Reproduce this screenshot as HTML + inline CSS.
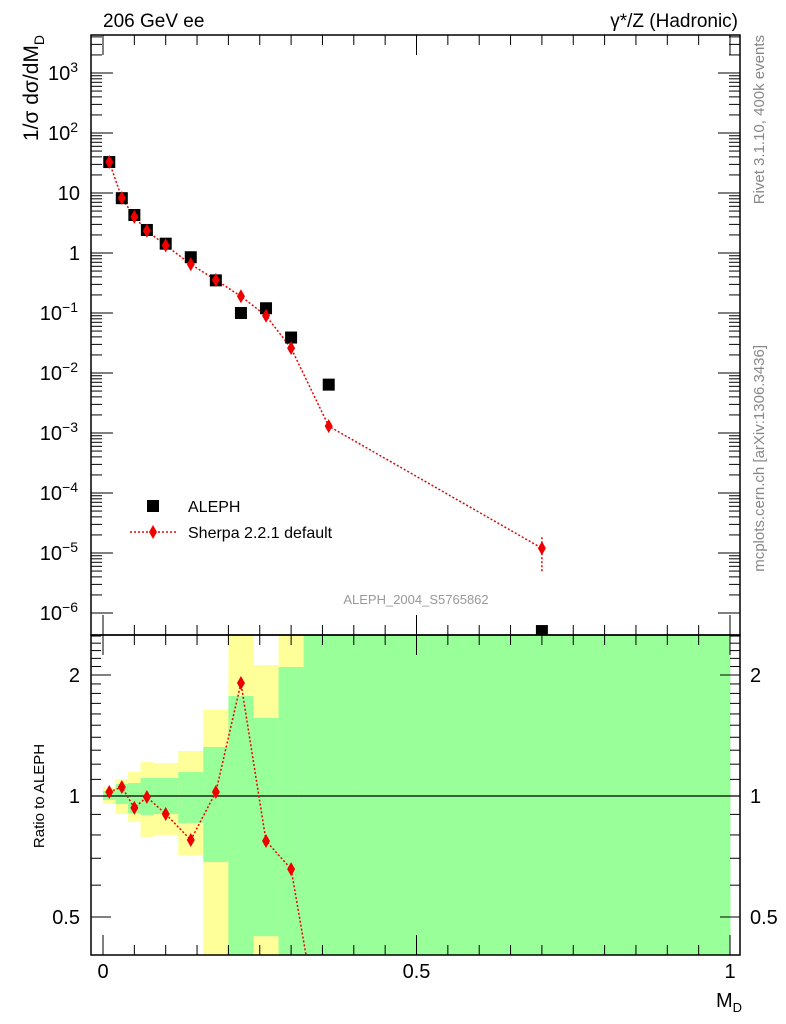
<!DOCTYPE html>
<html><head><meta charset="utf-8"><style>
html,body{margin:0;padding:0;background:#fff;overflow:hidden;width:786px;height:1024px}
svg{display:block;font-family:"Liberation Sans",sans-serif}
</style></head><body>
<svg id="c" width="786" height="1024" viewBox="0 0 786 1024" xmlns="http://www.w3.org/2000/svg">
<g id="bands"></g>
<g id="ticks"></g>
<g id="marks"></g>
<rect x="91" y="35" width="649" height="600" fill="none" stroke="#000" stroke-width="1.5"/>
<rect x="91" y="635" width="649" height="320" fill="none" stroke="#000" stroke-width="1.5"/>
<text x="103" y="27" font-size="19">206 GeV ee</text>
<text x="738" y="27" font-size="19" text-anchor="end">γ*/Z (Hadronic)</text>
<text transform="translate(38,35) rotate(-90)" font-size="21" text-anchor="end">1/σ  dσ/dM<tspan font-size="14" dy="6">D</tspan></text>
<text transform="translate(44,796) rotate(-90)" font-size="15" text-anchor="middle">Ratio to ALEPH</text>
<text x="742" y="1007" font-size="20" text-anchor="end">M<tspan font-size="13" dy="5">D</tspan></text>
<text transform="translate(764,35) rotate(-90)" font-size="15" fill="#888" text-anchor="end">Rivet 3.1.10,  400k events</text>
<text transform="translate(764,345) rotate(-90)" font-size="15" fill="#888" text-anchor="end">mcplots.cern.ch [arXiv:1306.3436]</text>
<text x="416" y="604" font-size="13" fill="#999" text-anchor="middle">ALEPH_2004_S5765862</text>
<g>
<rect x="147" y="500" width="12" height="12" fill="#000"/>
<text x="188" y="512" font-size="16">ALEPH</text>
<line x1="130" y1="532" x2="176" y2="532" stroke="#e00" stroke-width="1.5" stroke-dasharray="2,2"/>
<polygon points="153,525 157,532 153,539 149,532" fill="#e00"/>
<text x="188" y="538" font-size="16">Sherpa 2.2.1 default</text>
</g>
</svg>
<script>
const binEdges=[0,0.02,0.04,0.06,0.08,0.12,0.16,0.2,0.24,0.28,0.32,0.4,1.0];
const xCenters=[0.01,0.03,0.05,0.07,0.1,0.14,0.18,0.22,0.26,0.30,0.36,0.70];
const alephVals=[32.8,8.2,4.3,2.42,1.43,0.85,0.35,0.10,0.12,0.039,0.0064,5e-7];
const sherpaVals=[32.8,8.27,4.0,2.35,1.34,0.65,0.355,0.19,0.09,0.026,0.0013,1.2e-5];
const ratioVals=[1.023,1.053,0.934,0.994,0.902,0.777,1.023,1.91,0.773,0.658,0.19];
const yellowHi=[1.053,1.102,1.147,1.215,1.208,1.294,1.637,3,2.118,3,3,3];
const yellowLo=[0.955,0.902,0.862,0.791,0.800,0.713,0.3,0.3,0.3,0.3,0.3,0.3];
const greenHi=[1.029,1.071,1.077,1.109,1.109,1.147,1.324,1.773,1.564,2.094,3,3];
const greenLo=[0.977,0.955,0.907,0.897,0.902,0.857,0.685,0.3,0.448,0.3,0.3,0.3];
const mainTicks=[-6,-5,-4,-3,-2,-1,0,1,2,3];
const ratioTickLabels=[0.5,1,2];
const NS="http://www.w3.org/2000/svg";
const X=v=>103+627*v;
const Y=v=>253-60*Math.log10(v);
const R=v=>796-121*Math.log2(v);
const RT=635,RB=955;
const clampR=v=>Math.max(RT,Math.min(RB,R(v)));
function mk(p,tag,at){const e=document.createElementNS(NS,tag);for(const k in at)e.setAttribute(k,at[k]);p.appendChild(e);return e;}
const bands=document.getElementById('bands'),ticks=document.getElementById('ticks'),marks=document.getElementById('marks');
for(let i=0;i<xCenters.length;i++){
  const x0=X(binEdges[i]),x1=Math.min(X(binEdges[i+1]),740);
  const y=mk(bands,'rect',{x:x0,y:clampR(yellowHi[i]),width:x1-x0+0.5,height:clampR(yellowLo[i])-clampR(yellowHi[i]),fill:'#ffff99'});
  
  
  const g=mk(bands,'rect',{x:x0,y:clampR(greenHi[i]),width:x1-x0+0.5,height:clampR(greenLo[i])-clampR(greenHi[i]),fill:'#99ff99'});
  
  
}
for(const d of mainTicks){
  for(let m=1;m<10;m++){
    const yy=Y(m*Math.pow(10,d));
    if(yy<35||yy>635)continue;
    const L=m===1?22:11;
    mk(ticks,'line',{x1:91,x2:91+L,y1:yy,y2:yy,stroke:'#000'});
    mk(ticks,'line',{x1:740,x2:740-L,y1:yy,y2:yy,stroke:'#000'});
  }
  const yy=Y(Math.pow(10,d));
  const t=mk(ticks,'text',{x:d===0||d===1?80:78,y:yy+7,'font-size':20,'text-anchor':'end'});
  
  
  if(d===0)t.textContent='1';else if(d===1)t.textContent='10';
  else{t.textContent='10';const s=mk(t,'tspan',{dy:-8,'font-size':14});s.textContent=(d<0?'\u2212':'')+Math.abs(d);}
}
for(let k=0;k<=20;k++){
  const v=k*0.05,xx=X(v);
  const L=(k%10===0)?20:10;
  mk(ticks,'line',{x1:xx,x2:xx,y1:35,y2:35+L,stroke:'#000'});
  mk(ticks,'line',{x1:xx,x2:xx,y1:635,y2:635-L,stroke:'#000'});
  mk(ticks,'line',{x1:xx,x2:xx,y1:955,y2:955-L,stroke:'#000'});
  mk(ticks,'line',{x1:xx,x2:xx,y1:635,y2:635+L,stroke:'#000'});
}
[0,0.5,1].forEach(v=>{const t=mk(ticks,'text',{x:X(v),y:978,'font-size':20,'text-anchor':'middle'});t.textContent=String(v);

});
const rt=[0.4,0.5,0.6,0.7,0.8,0.9,1,1.1,1.2,1.3,1.4,1.5,1.6,1.7,1.8,1.9,2,2.1,2.2,2.3,2.4,2.5];
rt.forEach(v=>{const yy=R(v);if(yy<RT||yy>RB)return;const L=ratioTickLabels.includes(v)?20:10;
mk(ticks,'line',{x1:91,x2:91+L,y1:yy,y2:yy,stroke:'#000'});mk(ticks,'line',{x1:740,x2:740-L,y1:yy,y2:yy,stroke:'#000'});});
ratioTickLabels.forEach(v=>{const yy=R(v);
const a=mk(ticks,'text',{x:80,y:yy+7,'font-size':20,'text-anchor':'end'});a.textContent=String(v);


const b=mk(ticks,'text',{x:750,y:yy+7,'font-size':20});b.textContent=String(v);

});
mk(ticks,'line',{x1:91,x2:740,y1:R(1),y2:R(1),stroke:'#000','stroke-width':1.2});
const sp=mk(marks,'polyline',{points:xCenters.map((v,i)=>X(v)+','+Y(sherpaVals[i])).join(' '),fill:'none',stroke:'#e00','stroke-width':1.5,'stroke-dasharray':'2,2'});


const eb=mk(marks,'line',{x1:X(xCenters[11]),x2:X(xCenters[11]),y1:Y(sherpaVals[11])-11,y2:Y(sherpaVals[11])+24,stroke:'#e00','stroke-width':1.5,'stroke-dasharray':'2,2'});


const mc=mk(marks,'clipPath',{id:'mc'});mk(mc,'rect',{x:91,y:35,width:649,height:600});
const mg=mk(marks,'g',{'clip-path':'url(#mc)'});
xCenters.forEach((v,i)=>{const xx=X(v),yy=Math.min(Y(alephVals[i]),638);
const r=mk(mg,'rect',{x:xx-6,y:yy-6,width:12,height:12,fill:'#000'});

});
xCenters.forEach((v,i)=>{const xx=X(v),yy=Y(sherpaVals[i]);
const p=mk(marks,'polygon',{points:`${xx},${yy-7} ${xx+4},${yy} ${xx},${yy+7} ${xx-4},${yy}`,fill:'#e00'});

});
const cp=mk(marks,'clipPath',{id:'rc'});mk(cp,'rect',{x:91,y:RT,width:649,height:RB-RT});
const rg=mk(marks,'g',{'clip-path':'url(#rc)'});
const rl=mk(rg,'polyline',{points:ratioVals.map((r,i)=>X(xCenters[i])+','+R(r)).join(' '),fill:'none',stroke:'#e00','stroke-width':1.5,'stroke-dasharray':'2,2'});


ratioVals.forEach((r,i)=>{const xx=X(xCenters[i]),yy=R(r);if(yy<RT||yy>RB)return;
const p=mk(rg,'polygon',{points:`${xx},${yy-7} ${xx+4},${yy} ${xx},${yy+7} ${xx-4},${yy}`,fill:'#e00'});

});
</script>
</body></html>
